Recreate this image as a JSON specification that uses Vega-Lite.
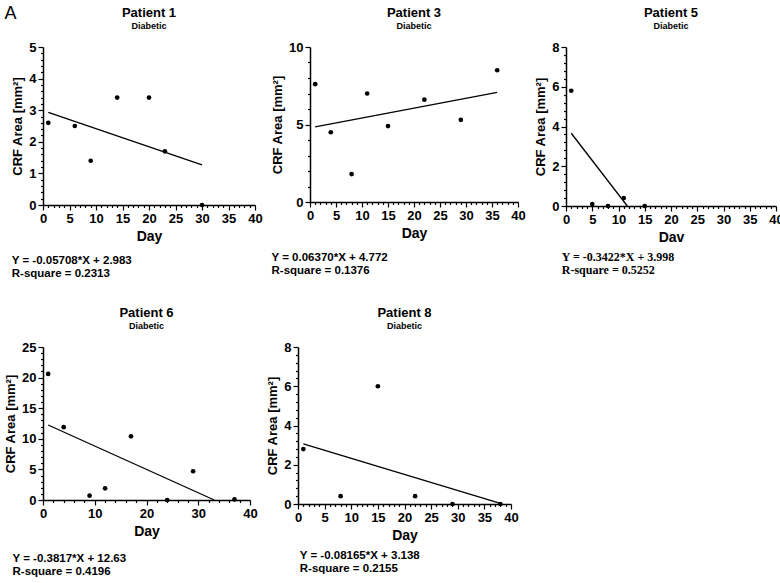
{
"$schema": "https://vega.github.io/schema/vega-lite/v6.json",
"padding": {"left": 4, "top": 5, "right": 2, "bottom": 2},
"title": {"text": "A", "anchor": "start", "fontSize": 18, "fontWeight": "normal", "offset": -16, "font": "Liberation Sans", "color": "black"},
"datasets": {
"points": [
{"patient": 1, "day": 1, "area": 2.6}, {"patient": 1, "day": 6, "area": 2.5}, {"patient": 1, "day": 9, "area": 1.4}, {"patient": 1, "day": 14, "area": 3.4}, {"patient": 1, "day": 20, "area": 3.4}, {"patient": 1, "day": 23, "area": 1.7}, {"patient": 1, "day": 30, "area": 0},
{"patient": 3, "day": 1, "area": 7.6}, {"patient": 3, "day": 4, "area": 4.5}, {"patient": 3, "day": 8, "area": 1.8}, {"patient": 3, "day": 11, "area": 7.0}, {"patient": 3, "day": 15, "area": 4.9}, {"patient": 3, "day": 22, "area": 6.6}, {"patient": 3, "day": 29, "area": 5.3}, {"patient": 3, "day": 36, "area": 8.5},
{"patient": 5, "day": 1, "area": 5.8}, {"patient": 5, "day": 5, "area": 0.1}, {"patient": 5, "day": 8, "area": 0}, {"patient": 5, "day": 11, "area": 0.4}, {"patient": 5, "day": 15, "area": 0},
{"patient": 6, "day": 1, "area": 20.6}, {"patient": 6, "day": 4, "area": 11.9}, {"patient": 6, "day": 9, "area": 0.7}, {"patient": 6, "day": 12, "area": 1.9}, {"patient": 6, "day": 17, "area": 10.4}, {"patient": 6, "day": 24, "area": 0}, {"patient": 6, "day": 29, "area": 4.7}, {"patient": 6, "day": 37, "area": 0.1},
{"patient": 8, "day": 1, "area": 2.8}, {"patient": 8, "day": 8, "area": 0.4}, {"patient": 8, "day": 15, "area": 6.0}, {"patient": 8, "day": 22, "area": 0.4}, {"patient": 8, "day": 29, "area": 0}, {"patient": 8, "day": 38, "area": 0}
],
"fits": [
{"patient": 1, "day": 1, "area": 2.93}, {"patient": 1, "day": 30, "area": 1.27},
{"patient": 3, "day": 1, "area": 4.84}, {"patient": 3, "day": 36, "area": 7.07},
{"patient": 5, "day": 1, "area": 3.66}, {"patient": 5, "day": 11.68, "area": 0},
{"patient": 6, "day": 1, "area": 12.25}, {"patient": 6, "day": 33.09, "area": 0},
{"patient": 8, "day": 1, "area": 3.06}, {"patient": 8, "day": 38, "area": 0.03}
]
},
"vconcat": [
{"hconcat": [
{"title": {"text": ["Y = -0.05708*X + 2.983", "R-square = 0.2313"], "orient": "bottom", "anchor": "start", "frame": "bounds", "fontSize": 11.5, "lineHeight": 13, "offset": 12, "dx": 0},
 "vconcat": [{
  "width": 212, "height": 158,
  "title": {"text": "Patient 1", "subtitle": "Diabetic"},
  "encoding": {
   "x": {"field": "day", "type": "quantitative", "scale": {"domain": [0, 40], "nice": false}, "title": "Day", "axis": {"values": [0,1,2,3,4,5,6,7,8,9,10,11,12,13,14,15,16,17,18,19,20,21,22,23,24,25,26,27,28,29,30,31,32,33,34,35,36,37,38,39,40], "labelExpr": "datum.value % 5 == 0 ? datum.label : ''", "tickSize": {"condition": {"test": "datum.value % 5 != 0", "value": 2.5}, "value": 5}}},
   "y": {"field": "area", "type": "quantitative", "scale": {"domain": [0, 5], "nice": false}, "title": "CRF Area [mm²]", "axis": {"values": [0,0.2,0.4,0.6,0.8,1,1.2,1.4,1.6,1.8,2,2.2,2.4,2.6,2.8,3,3.2,3.4,3.6,3.8,4,4.2,4.4,4.6,4.8,5], "labelExpr": "datum.value % 1 == 0 ? '' + datum.value : ''", "tickSize": {"condition": {"test": "datum.value % 1 != 0", "value": 2.5}, "value": 5}}}
  },
  "layer": [
   {"data": {"name": "points"}, "transform": [{"filter": "datum.patient == 1"}], "mark": {"type": "circle", "size": 22, "color": "black", "opacity": 1}},
   {"data": {"name": "fits"}, "transform": [{"filter": "datum.patient == 1"}], "mark": {"type": "line", "color": "black", "strokeWidth": 1.3}}
  ]
 }]
},
{"title": {"text": ["Y = 0.06370*X + 4.772", "R-square = 0.1376"], "orient": "bottom", "anchor": "start", "frame": "bounds", "fontSize": 11.5, "lineHeight": 13, "offset": 12},
 "vconcat": [{
  "width": 208, "height": 155,
  "title": {"text": "Patient 3", "subtitle": "Diabetic"},
  "encoding": {
   "x": {"field": "day", "type": "quantitative", "scale": {"domain": [0, 40], "nice": false}, "title": "Day", "axis": {"values": [0,1,2,3,4,5,6,7,8,9,10,11,12,13,14,15,16,17,18,19,20,21,22,23,24,25,26,27,28,29,30,31,32,33,34,35,36,37,38,39,40], "labelExpr": "datum.value % 5 == 0 ? datum.label : ''", "tickSize": {"condition": {"test": "datum.value % 5 != 0", "value": 2.5}, "value": 5}}},
   "y": {"field": "area", "type": "quantitative", "scale": {"domain": [0, 10], "nice": false}, "title": "CRF Area [mm²]", "axis": {"values": [0,1,2,3,4,5,6,7,8,9,10], "labelExpr": "datum.value % 5 == 0 ? '' + datum.value : ''", "tickSize": {"condition": {"test": "datum.value % 5 != 0", "value": 2.5}, "value": 5}}}
  },
  "layer": [
   {"data": {"name": "points"}, "transform": [{"filter": "datum.patient == 3"}], "mark": {"type": "circle", "size": 22, "color": "black", "opacity": 1}},
   {"data": {"name": "fits"}, "transform": [{"filter": "datum.patient == 3"}], "mark": {"type": "line", "color": "black", "strokeWidth": 1.3}}
  ]
 }]
},
{"title": {"text": ["Y = -0.3422*X + 3.998", "R-square = 0.5252"], "orient": "bottom", "anchor": "start", "frame": "bounds", "font": "Liberation Serif", "fontSize": 12, "lineHeight": 13, "offset": 8, "dx": 27},
 "vconcat": [{
  "width": 210, "height": 159,
  "title": {"text": "Patient 5", "subtitle": "Diabetic"},
  "encoding": {
   "x": {"field": "day", "type": "quantitative", "scale": {"domain": [0, 40], "nice": false}, "title": "Dav", "axis": {"values": [0,1,2,3,4,5,6,7,8,9,10,11,12,13,14,15,16,17,18,19,20,21,22,23,24,25,26,27,28,29,30,31,32,33,34,35,36,37,38,39,40], "labelExpr": "datum.value % 5 == 0 ? datum.label : ''", "tickSize": {"condition": {"test": "datum.value % 5 != 0", "value": 2.5}, "value": 5}}},
   "y": {"field": "area", "type": "quantitative", "scale": {"domain": [0, 8], "nice": false}, "title": "CRF Area [mm²]", "axis": {"values": [0,0.4,0.8,1.2,1.6,2,2.4,2.8,3.2,3.6,4,4.4,4.8,5.2,5.6,6,6.4,6.8,7.2,7.6,8], "labelExpr": "datum.value % 2 == 0 ? '' + datum.value : ''", "tickSize": {"condition": {"test": "datum.value % 2 != 0", "value": 2.5}, "value": 5}}}
  },
  "layer": [
   {"data": {"name": "points"}, "transform": [{"filter": "datum.patient == 5"}], "mark": {"type": "circle", "size": 22, "color": "black", "opacity": 1}},
   {"data": {"name": "fits"}, "transform": [{"filter": "datum.patient == 5"}], "mark": {"type": "line", "color": "black", "strokeWidth": 1.3}}
  ]
 }]
}
], "spacing": 8},
{"hconcat": [
{"title": {"text": ["Y = -0.3817*X + 12.63", "R-square = 0.4196"], "orient": "bottom", "anchor": "start", "frame": "bounds", "fontSize": 11.5, "lineHeight": 13, "offset": 15, "dx": 8},
 "vconcat": [{
  "width": 207, "height": 153,
  "title": {"text": "Patient 6", "subtitle": "Diabetic"},
  "encoding": {
   "x": {"field": "day", "type": "quantitative", "scale": {"domain": [0, 40], "nice": false}, "title": "Day", "axis": {"values": [0,2,4,6,8,10,12,14,16,18,20,22,24,26,28,30,32,34,36,38,40], "labelExpr": "datum.value % 10 == 0 ? datum.label : ''", "tickSize": {"condition": {"test": "datum.value % 10 != 0", "value": 2.5}, "value": 5}}},
   "y": {"field": "area", "type": "quantitative", "scale": {"domain": [0, 25], "nice": false}, "title": "CRF Area [mm²]", "axis": {"values": [0,1,2,3,4,5,6,7,8,9,10,11,12,13,14,15,16,17,18,19,20,21,22,23,24,25], "labelExpr": "datum.value % 5 == 0 ? '' + datum.value : ''", "tickSize": {"condition": {"test": "datum.value % 5 != 0", "value": 2.5}, "value": 5}}}
  },
  "layer": [
   {"data": {"name": "points"}, "transform": [{"filter": "datum.patient == 6"}], "mark": {"type": "circle", "size": 22, "color": "black", "opacity": 1}},
   {"data": {"name": "fits"}, "transform": [{"filter": "datum.patient == 6"}], "mark": {"type": "line", "color": "black", "strokeWidth": 1.3}}
  ]
 }]
},
{"title": {"text": ["Y = -0.08165*X + 3.138", "R-square = 0.2155"], "orient": "bottom", "anchor": "start", "frame": "bounds", "fontSize": 11.5, "lineHeight": 13, "offset": 8, "dx": 33},
 "vconcat": [{
  "width": 213, "height": 157,
  "title": {"text": "Patient 8", "subtitle": "Diabetic"},
  "encoding": {
   "x": {"field": "day", "type": "quantitative", "scale": {"domain": [0, 40], "nice": false}, "title": "Day", "axis": {"values": [0,1,2,3,4,5,6,7,8,9,10,11,12,13,14,15,16,17,18,19,20,21,22,23,24,25,26,27,28,29,30,31,32,33,34,35,36,37,38,39,40], "labelExpr": "datum.value % 5 == 0 ? datum.label : ''", "tickSize": {"condition": {"test": "datum.value % 5 != 0", "value": 2.5}, "value": 5}}},
   "y": {"field": "area", "type": "quantitative", "scale": {"domain": [0, 8], "nice": false}, "title": "CRF Area [mm²]", "axis": {"values": [0,0.4,0.8,1.2,1.6,2,2.4,2.8,3.2,3.6,4,4.4,4.8,5.2,5.6,6,6.4,6.8,7.2,7.6,8], "labelExpr": "datum.value % 2 == 0 ? '' + datum.value : ''", "tickSize": {"condition": {"test": "datum.value % 2 != 0", "value": 2.5}, "value": 5}}}
  },
  "layer": [
   {"data": {"name": "points"}, "transform": [{"filter": "datum.patient == 8"}], "mark": {"type": "circle", "size": 22, "color": "black", "opacity": 1}},
   {"data": {"name": "fits"}, "transform": [{"filter": "datum.patient == 8"}], "mark": {"type": "line", "color": "black", "strokeWidth": 1.3}}
  ]
 }]
}
], "spacing": 8}
],
"spacing": 27,
"config": {
 "font": "Liberation Sans",
 "view": {"stroke": null},
 "title": {"fontSize": 13, "fontWeight": "bold", "subtitleFontSize": 9, "subtitleFontWeight": "bold", "subtitlePadding": 2, "offset": 10, "color": "black", "subtitleColor": "black", "subtitleFont": "Liberation Sans"},
 "axis": {"domainColor": "black", "domainWidth": 1.5, "tickColor": "black", "tickWidth": 1.2, "labelFontSize": 13, "labelFontWeight": "bold", "labelColor": "black", "titleFontSize": 14, "titleFontWeight": "bold", "titleColor": "black", "grid": false, "labelFlush": false, "labelOverlap": false, "labelPadding": 2, "titlePadding": 4},
 "axisY": {"titleFontSize": 13}
}
}
